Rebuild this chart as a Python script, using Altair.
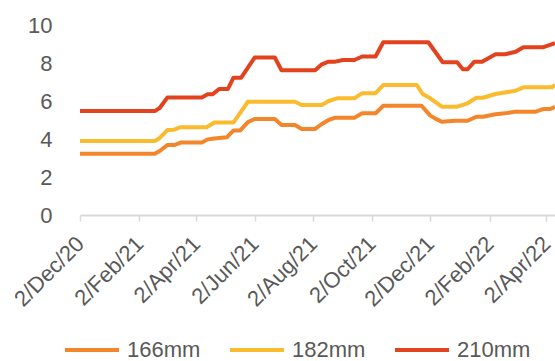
import altair as alt
import pandas as pd

# Wafer size series (weekly quotes, vertices where the price changes)
dates_166 = [
    "2020-12-02", "2021-02-18", "2021-02-23", "2021-03-03", "2021-03-10", "2021-03-17",
    "2021-04-08", "2021-04-14", "2021-04-21", "2021-05-04", "2021-05-11", "2021-05-18",
    "2021-05-26", "2021-06-02", "2021-06-23", "2021-06-30", "2021-07-14", "2021-07-21",
    "2021-08-04", "2021-08-11", "2021-08-18", "2021-08-25", "2021-09-14", "2021-09-22",
    "2021-10-06", "2021-10-14", "2021-11-23", "2021-12-02", "2021-12-09", "2021-12-14",
    "2021-12-28", "2022-01-10", "2022-01-19", "2022-01-26", "2022-02-08", "2022-02-18",
    "2022-03-01", "2022-03-22", "2022-03-30", "2022-04-06", "2022-04-11",
]
vals_166 = [
    3.23, 3.23, 3.37, 3.68, 3.68, 3.81,
    3.81, 3.98, 4.03, 4.09, 4.45, 4.45,
    4.89, 5.05, 5.05, 4.74, 4.74, 4.53,
    4.53, 4.79, 5.00, 5.12, 5.12, 5.35,
    5.35, 5.75, 5.75, 5.23, 5.03, 4.91,
    4.96, 4.96, 5.17, 5.17, 5.30, 5.35,
    5.44, 5.44, 5.58, 5.58, 5.70,
]

dates_182 = [
    "2020-12-02", "2021-02-18", "2021-02-23", "2021-03-03", "2021-03-10", "2021-03-17",
    "2021-04-13", "2021-04-21", "2021-05-11", "2021-05-26", "2021-07-14", "2021-07-21",
    "2021-08-11", "2021-08-18", "2021-08-27", "2021-09-14", "2021-09-22", "2021-10-06",
    "2021-10-14", "2021-11-18", "2021-11-24", "2021-12-02", "2021-12-14", "2021-12-30",
    "2022-01-10", "2022-01-19", "2022-01-26", "2022-02-08", "2022-03-01", "2022-03-09",
    "2022-04-08", "2022-04-11",
]
vals_182 = [
    3.89, 3.89, 4.05, 4.47, 4.49, 4.62,
    4.62, 4.87, 4.87, 5.96, 5.96, 5.79,
    5.79, 6.00, 6.14, 6.14, 6.41, 6.41,
    6.84, 6.84, 6.37, 6.14, 5.70, 5.70,
    5.88, 6.17, 6.17, 6.37, 6.54, 6.72,
    6.72, 6.86,
]

dates_210 = [
    "2020-12-02", "2021-02-18", "2021-02-23", "2021-03-03", "2021-04-08", "2021-04-14",
    "2021-04-19", "2021-04-26", "2021-05-05", "2021-05-11", "2021-05-19", "2021-06-02",
    "2021-06-23", "2021-06-30", "2021-08-04", "2021-08-11", "2021-08-18", "2021-08-25",
    "2021-09-02", "2021-09-14", "2021-09-22", "2021-10-06", "2021-10-14", "2021-11-30",
    "2021-12-15", "2021-12-30", "2022-01-05", "2022-01-10", "2022-01-17", "2022-01-25",
    "2022-02-08", "2022-02-18", "2022-03-01", "2022-03-09", "2022-03-30", "2022-04-11",
]
vals_210 = [
    5.47, 5.47, 5.63, 6.18, 6.18, 6.35,
    6.35, 6.63, 6.63, 7.23, 7.23, 8.29,
    8.29, 7.62, 7.62, 7.93, 8.07, 8.07,
    8.16, 8.16, 8.34, 8.34, 9.09, 9.09,
    8.04, 8.04, 7.67, 7.67, 8.07, 8.07,
    8.46, 8.46, 8.59, 8.83, 8.83, 9.04,
]

series = ["166mm", "182mm", "210mm"]
colors = ["#F3852A", "#FBBB2F", "#E2421E"]

tick_dates = [
    "2020-12-02", "2021-02-02", "2021-04-02", "2021-06-02", "2021-08-02",
    "2021-10-02", "2021-12-02", "2022-02-02", "2022-04-02",
]
x_start, x_end = "2020-12-02", "2022-04-11"
y_ticks = [0, 2, 4, 6, 8, 10]

rows = []
for name, ds, vs in zip(series, [dates_166, dates_182, dates_210],
                        [vals_166, vals_182, vals_210]):
    for d, v in zip(ds, vs):
        rows.append({"date": d, "price": v, "size": name})
df = pd.DataFrame(rows)


def utc_date(s):
    y, m, d = (int(p) for p in s.split("-"))
    return alt.DateTime(year=y, month=m, date=d, utc=True)


FONT = "Liberation Sans"
TEXT = "#595959"

chart = alt.Chart(df).mark_line(strokeWidth=4, strokeJoin="round").encode(
    x=alt.X(
        "date:T",
        scale=alt.Scale(type="utc", domain=[utc_date(x_start), utc_date(x_end)]),
        axis=alt.Axis(
            values=[utc_date(t) for t in tick_dates],
            format="%-d/%b/%y",
            labelAngle=-45,
            labelAlign="right",
            labelBaseline="middle",
            labelFontSize=22,
            labelColor=TEXT,
            labelFont=FONT,
            labelPadding=19,
            labelOverlap=False,
            labelFlush=False,
            domainColor="#D9D9D9",
            domainWidth=2,
            tickColor="#D9D9D9",
            tickWidth=1.5,
            tickSize=6,
            grid=False,
            title=None,
        ),
    ),
    y=alt.Y(
        "price:Q",
        scale=alt.Scale(domain=[0, 10], nice=False),
        axis=alt.Axis(
            values=y_ticks,
            domain=False,
            ticks=False,
            grid=False,
            labelFontSize=22,
            labelColor=TEXT,
            labelFont=FONT,
            labelPadding=28,
            title=None,
        ),
    ),
    color=alt.Color(
        "size:N",
        scale=alt.Scale(domain=series, range=colors),
        legend=alt.Legend(
            orient="none",
            legendX=-17,
            legendY=296,
            direction="horizontal",
            title=None,
            symbolType="stroke",
            symbolSize=2916,
            symbolStrokeWidth=4,
            labelFontSize=22,
            labelColor=TEXT,
            labelFont=FONT,
            labelOffset=6,
            columnPadding=21,
        ),
    ),
).properties(
    width=475,
    height=190,
    padding={"left": 80, "top": 25, "right": 0, "bottom": 146},
    autosize=alt.AutoSizeParams(type="none"),
).configure_view(stroke=None)

chart.save("out.html", embed_options={"renderer": "svg", "actions": False})
